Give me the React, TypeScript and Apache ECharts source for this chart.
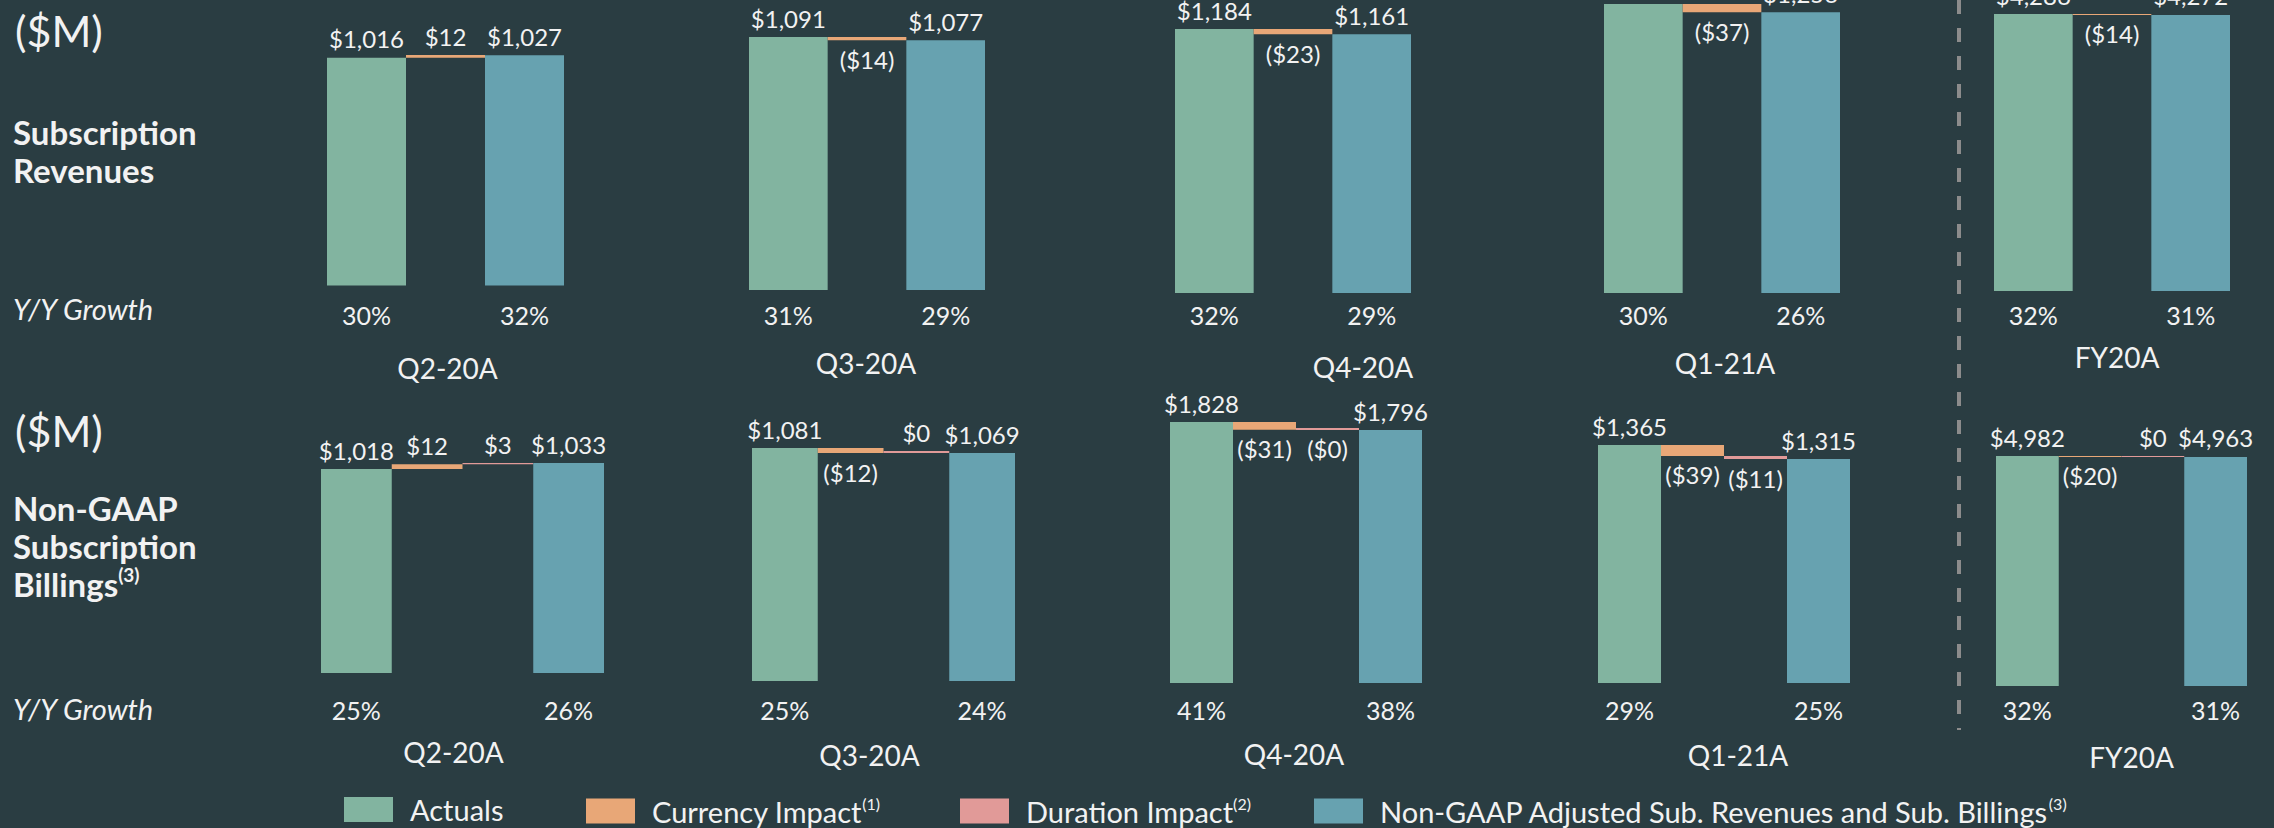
import React, { useEffect, useRef } from "react";
import * as echarts from "echarts";

// ---------------- data ----------------
const periods = ["Q2-20A", "Q3-20A", "Q4-20A", "Q1-21A", "FY20A"];

const revenueActual = [1016, 1091, 1184, 1293, 4286];
const revenueCurrency = [12, -14, -23, -37, -14];
const revenueAdjusted = [1027, 1077, 1161, 1256, 4272];
const revenueGrowthActual = [30, 31, 32, 30, 32];
const revenueGrowthAdjusted = [32, 29, 29, 26, 31];

const billingsActual = [1018, 1081, 1828, 1365, 4982];
const billingsCurrency = [12, -12, -31, -39, -20];
const billingsDuration = [3, 0, -0.4, -11, 0];
const billingsAdjusted = [1033, 1069, 1796, 1315, 4963];
const billingsGrowthActual = [25, 25, 41, 29, 32];
const billingsGrowthAdjusted = [26, 24, 38, 25, 31];

const seriesNames = [
  "Actuals",
  "Currency Impact",
  "Duration Impact",
  "Non-GAAP Adjusted Sub. Revenues and Sub. Billings",
];
const footnotes = ["", "(1)", "(2)", "(3)"];

// ---------------- layout & style ----------------
const FONT = "Lato, 'Noto Sans', sans-serif";
const TEXT = "#f2f2f2";
const BG = "#2a3d42";
const COLORS = ["#82b4a0", "#e8a777", "#e19a98", "#67a2b0"];

type Panel = { left: number; width: number; top: number; base: number; yMin: number; nameY: number; nameDx: number };

const revenueLayout: Panel[] = [
  { left: 327, width: 237, top: 55, base: 285.5, yMin: 0, nameY: 368, nameDx: 2 },
  { left: 749, width: 236, top: 37, base: 290, yMin: 0, nameY: 363, nameDx: -1 },
  { left: 1175, width: 236, top: 29, base: 293, yMin: 0, nameY: 367, nameDx: 70 },
  { left: 1604, width: 236, top: 4, base: 293, yMin: 0, nameY: 363, nameDx: 3 },
  { left: 1994, width: 236, top: 14, base: 291, yMin: 0, nameY: 357, nameDx: 5 },
];
const billingsLayout: Panel[] = [
  { left: 321, width: 283, top: 463, base: 673, yMin: 511, nameY: 752, nameDx: -9 },
  { left: 752, width: 263, top: 448, base: 681, yMin: 529, nameY: 755, nameDx: -14 },
  { left: 1170, width: 252, top: 422, base: 683, yMin: 788, nameY: 754, nameDx: -2 },
  { left: 1598, width: 252, top: 445, base: 683, yMin: 519, nameY: 755, nameDx: 14 },
  { left: 1996, width: 251, top: 456, base: 686, yMin: 0, nameY: 757, nameDx: 10 },
];
const revenueGrowthY = 315;
const billingsGrowthY = 710;
const legendLeft = [344, 586, 960, 1314];

function fmtMoney(v: number) {
  return "$" + Math.round(v).toLocaleString("en-US");
}
function fmtDelta(v: number) {
  const r = Math.round(Math.abs(v));
  return v < 0 ? "($" + r + ")" : "$" + r;
}

function buildRow(
  row: number,
  actual: number[],
  deltas: number[][],
  deltaKinds: number[],
  adjusted: number[],
  gA: number[],
  gN: number[],
  layout: Panel[],
  growthY: number,
  opt: any
) {
  layout.forEach((p, g) => {
    const gi = row * 5 + g;
    const n = deltas.length + 2;
    opt.grid.push({ left: p.left, top: p.top, width: p.width, height: p.base - p.top });
    opt.xAxis.push({
      type: "category",
      gridIndex: gi,
      data: Array.from({ length: n }, (_, i) => "c" + i),
      axisLine: { show: false },
      axisTick: { show: false },
      splitLine: { show: false },
      axisLabel: {
        interval: 0,
        margin: growthY - p.base,
        verticalAlign: "middle",
        color: TEXT,
        fontSize: 25,
        fontFamily: FONT,
        formatter: (_v: string, i: number) =>
          i === 0 ? gA[g] + "%" : i === n - 1 ? gN[g] + "%" : "",
      },
      name: periods[g],
      nameLocation: "middle",
      nameGap: p.nameY - p.base,
      nameTextStyle: {
        color: TEXT,
        fontSize: 28,
        fontFamily: FONT,
        verticalAlign: "middle",
        padding: p.nameDx >= 0 ? [0, 0, 0, 2 * p.nameDx] : [0, -2 * p.nameDx, 0, 0],
      },
    });
    opt.yAxis.push({ type: "value", gridIndex: gi, show: false, min: p.yMin, max: "dataMax" });

    const stack = "w" + gi;
    const base: any[] = Array(n).fill("-");
    base[0] = 0;
    base[n - 1] = 0;
    let level = actual[g];
    const deltaData = deltas.map(() => Array(n).fill("-") as any[]);
    deltas.forEach((d, k) => {
      const v = d[g];
      const next = level + v;
      base[k + 1] = Math.min(level, next);
      deltaData[k][k + 1] = {
        value: Math.abs(v),
        label: { position: v < 0 ? "bottom" : "top", formatter: fmtDelta(v) },
      };
      level = next;
    });
    const labelBase = { show: true, distance: 7, color: TEXT, fontSize: 24, fontFamily: FONT };
    const common = { type: "bar", xAxisIndex: gi, yAxisIndex: gi, stack, barWidth: "100%" };

    opt.series.push({
      ...common,
      name: "_base",
      data: base,
      silent: true,
      itemStyle: { color: "rgba(0,0,0,0)" },
      label: { show: false },
    });
    const aData: any[] = Array(n).fill("-");
    aData[0] = actual[g];
    opt.series.push({
      ...common,
      name: seriesNames[0],
      data: aData,
      itemStyle: { color: COLORS[0] },
      label: { ...labelBase, position: "top", formatter: (q: any) => fmtMoney(q.value) },
    });
    deltaData.forEach((dd, k) => {
      opt.series.push({
        ...common,
        name: seriesNames[deltaKinds[k]],
        data: dd,
        barMinHeight: 2,
        itemStyle: { color: COLORS[deltaKinds[k]] },
        label: { ...labelBase },
      });
    });
    const nData: any[] = Array(n).fill("-");
    nData[n - 1] = adjusted[g];
    opt.series.push({
      ...common,
      name: seriesNames[3],
      data: nData,
      itemStyle: { color: COLORS[3] },
      label: { ...labelBase, position: "top", formatter: (q: any) => fmtMoney(q.value) },
    });
  });
}

function buildOption() {
  const opt: any = {
    animation: false,
    backgroundColor: BG,
    grid: [],
    xAxis: [],
    yAxis: [],
    series: [],
  };
  buildRow(0, revenueActual, [revenueCurrency], [1], revenueAdjusted, revenueGrowthActual, revenueGrowthAdjusted, revenueLayout, revenueGrowthY, opt);
  buildRow(1, billingsActual, [billingsCurrency, billingsDuration], [1, 2], billingsAdjusted, billingsGrowthActual, billingsGrowthAdjusted, billingsLayout, billingsGrowthY, opt);

  opt.legend = seriesNames.map((nm, k) => ({
    data: [nm],
    left: legendLeft[k],
    top: 795,
    padding: 0,
    itemWidth: 49,
    itemHeight: 25,
    icon: "rect",
    selectedMode: false,
    formatter: (name: string) => "{t|" + name + "}" + (footnotes[k] ? "{s|" + footnotes[k] + "}" : ""),
    textStyle: {
      color: TEXT,
      fontSize: 29,
      fontFamily: FONT,
      rich: {
        t: { color: TEXT, fontSize: 29, fontFamily: FONT, padding: [0, 0, 0, 12], lineHeight: 32 },
        s: { color: TEXT, fontSize: 16, fontFamily: FONT, verticalAlign: "top", lineHeight: 18 },
      },
    },
  }));

  const titleRich = {
    b: { fill: TEXT, fontSize: 33, fontWeight: "bold", fontFamily: FONT, lineHeight: 38 },
    s: { fill: TEXT, fontSize: 19, fontWeight: "bold", fontFamily: FONT, verticalAlign: "top", lineHeight: 22 },
  };
  opt.graphic = [
    { type: "text", x: 15, y: 30, style: { text: "($M)", fill: TEXT, fontSize: 43, fontFamily: FONT, verticalAlign: "middle" } },
    {
      type: "text",
      x: 13,
      y: 151,
      style: { text: "{b|Subscription}\n{b|Revenues}", rich: titleRich, verticalAlign: "middle", fill: TEXT },
    },
    { type: "text", x: 13, y: 308, style: { text: "Y/Y Growth", fill: TEXT, fontSize: 29, fontStyle: "italic", fontFamily: FONT, verticalAlign: "middle" } },
    { type: "text", x: 15, y: 430, style: { text: "($M)", fill: TEXT, fontSize: 43, fontFamily: FONT, verticalAlign: "middle" } },
    {
      type: "text",
      x: 13,
      y: 546,
      style: { text: "{b|Non-GAAP}\n{b|Subscription}\n{b|Billings}{s|(3)}", rich: titleRich, verticalAlign: "middle", fill: TEXT },
    },
    { type: "text", x: 13, y: 708, style: { text: "Y/Y Growth", fill: TEXT, fontSize: 29, fontStyle: "italic", fontFamily: FONT, verticalAlign: "middle" } },
    {
      type: "line",
      shape: { x1: 1959, y1: 0, x2: 1959, y2: 730 },
      style: { stroke: "#8c8c8c", lineWidth: 4, lineDash: [14, 14] },
    },
  ];
  return opt;
}

export default function App() {
  const ref = useRef<HTMLDivElement>(null);
  useEffect(() => {
    if (!ref.current) return;
    const chart = echarts.init(ref.current, undefined, { renderer: "svg" });
    chart.setOption(buildOption());
    return () => chart.dispose();
  }, []);
  return <div ref={ref} style={{ position: "fixed", left: 0, top: 0, width: 2274, height: 828 }} />;
}
